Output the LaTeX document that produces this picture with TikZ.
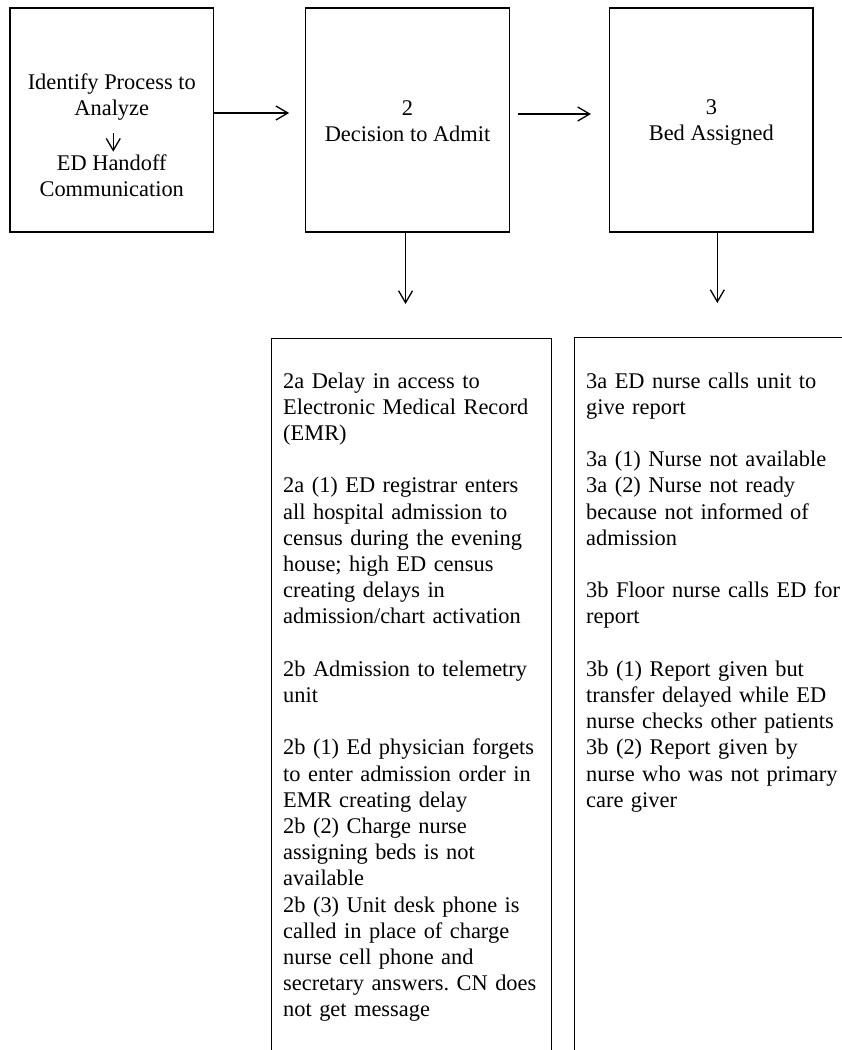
\documentclass[tikz,border=0pt]{standalone}
\usepackage{fontspec}
\setmainfont{Liberation Serif}
\usetikzlibrary{positioning,arrows.meta}
\frenchspacing

\begin{document}
\begin{tikzpicture}[
        x=1pt, y=-1pt,
        box/.style={draw, line width=1.3pt, minimum width=203.5pt,
                    minimum height=224pt, inner sep=0pt},
        frame/.style={draw, line width=1.3pt, anchor=north west, inner sep=0pt},
        txt/.style={align=center, inner sep=0pt, font=\fontsize{22.4}{26.2}\selectfont},
        list/.style={text width=300pt, align=left, anchor=base west, inner sep=0pt,
                     font=\fontsize{22.4}{26.2}\selectfont},
        arr/.style={->, >={Straight Barb[length=12pt,width=14pt]}, line width=1.3pt},
    ]
    \useasboundingbox (0,0) rectangle (842,1050);
    \clip (0,0) rectangle (842,1050);

    % --- Row 1 ---
    \node[box] (box1) at (111.75,120) {};
    \node[box, right=91pt of box1] (box2) {};
    \node[box, right=99pt of box2] (box3) {};
    \node[txt] (ident) at ([yshift=23pt]box1.center) {Identify Process to\\Analyze};
    \node[txt] (handoff) at ([yshift=-56pt]box1.center) {ED Handoff\\Communication};
    \node[txt] (admit) at ([yshift=-1pt]box2.center) {2\\Decision to Admit};
    \node[txt] (bed) at ([yshift=-2.5pt]box3.center) {3\\Bed Assigned};

    % --- Row 2 ---
    \node[frame, minimum width=280pt, minimum height=760pt] (box2a) at (271,338) {};
    \node[frame, minimum width=300pt, minimum height=760pt] (box3b) at (573.5,337) {};
    \node[list] (list2) at (283,388) {%
        2a Delay in access to\\
        Electronic Medical Record\\
        (EMR)\\[26.2pt]
        2a (1) ED registrar enters\\
        all hospital admission to\\
        census during the evening\\
        house; high ED census\\
        creating delays in\\
        admission/chart activation\\[26.2pt]
        2b Admission to telemetry\\
        unit\\[26.2pt]
        2b (1) Ed physician forgets\\
        to enter admission order in\\
        EMR creating delay\\
        2b (2) Charge nurse\\
        assigning beds is not\\
        available\\
        2b (3) Unit desk phone is\\
        called in place of charge\\
        nurse cell phone and\\
        secretary answers. CN does\\
        not get message};
    \node[list] (list3) at (586,388) {%
        3a ED nurse calls unit to\\
        give report\\[26.2pt]
        3a (1) Nurse not available\\
        3a (2) Nurse not ready\\
        because not informed of\\
        admission\\[26.2pt]
        3b Floor nurse calls ED for\\
        report\\[26.2pt]
        3b (1) Report given but\\
        transfer delayed while ED\\
        nurse checks other patients\\
        3b (2) Report given by\\
        nurse who was not primary\\
        care giver};

    % --- Arrows ---
    \draw[arr, shorten <=12.5pt, shorten >=3pt] ([xshift=1.5pt]ident.south) -- ([xshift=1.5pt]ident.south |- handoff.north);
    \draw[arr, shorten >=16pt] ([yshift=7pt]box1.east) -- ([yshift=7pt]box2.west);
    \draw[arr, shorten <=8pt, shorten >=18pt] ([yshift=6pt]box2.east) -- ([yshift=6pt]box3.west);
    \draw[arr, shorten >=34pt] ([xshift=-2pt]box2.south) -- ([xshift=-2pt]box2.south |- box2a.north);
    \draw[arr, shorten >=34pt] ([xshift=6pt]box3.south) -- ([xshift=6pt]box3.south |- box3b.north);
\end{tikzpicture}
\end{document}
